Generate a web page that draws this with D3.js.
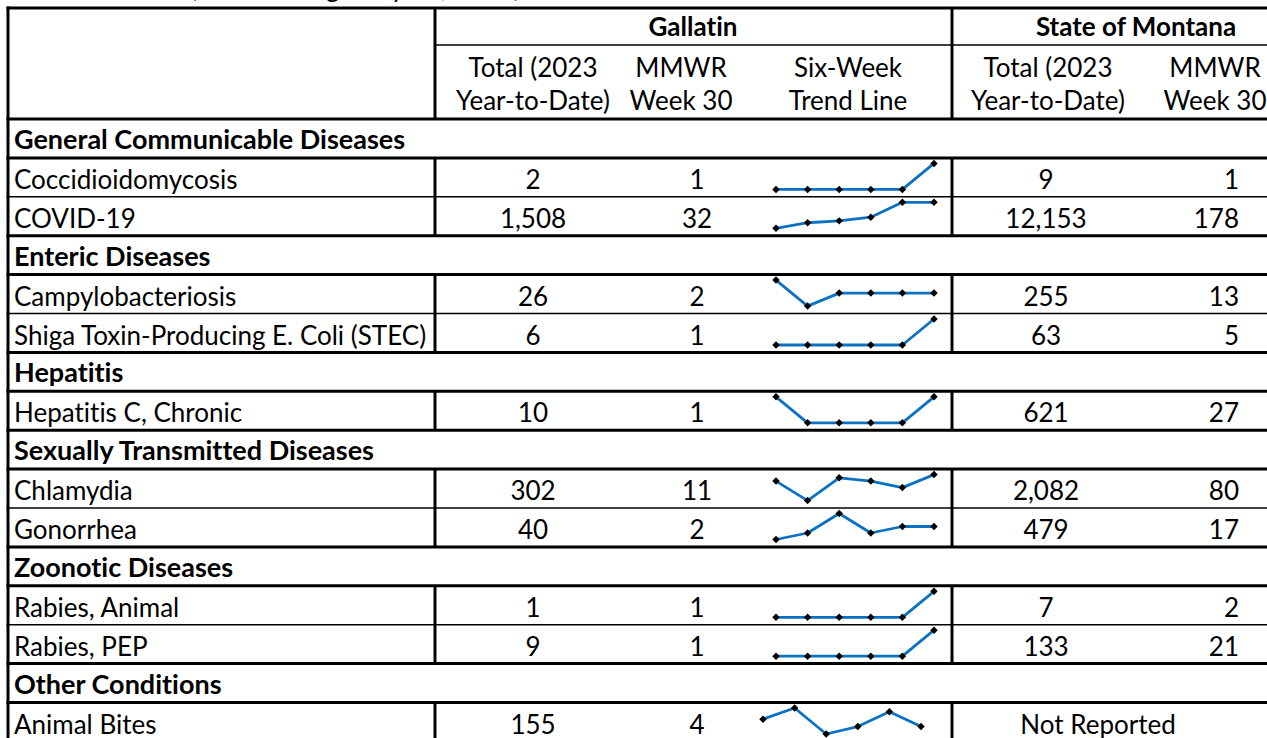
<!DOCTYPE html>
<html>
<head>
<meta charset="utf-8">
<script src="https://cdn.jsdelivr.net/npm/d3@7"></script>
<style>
  body { margin: 0; background: #fff; }
  svg text { font-family: Lato, "Noto Sans", sans-serif; fill: #000;
    font-variant-ligatures: none; font-feature-settings: "liga" 0; }
</style>
</head>
<body>
<div id="chart"></div>
<script>
// Disease report table with six-week sparklines
const groups = ["General Communicable Diseases", "Enteric Diseases", "Hepatitis",
  "Sexually Transmitted Diseases", "Zoonotic Diseases", "Other Conditions"];
const conditions = ["Coccidioidomycosis", "COVID-19", "Campylobacteriosis",
  "Shiga Toxin-Producing E. Coli (STEC)", "Hepatitis C, Chronic", "Chlamydia",
  "Gonorrhea", "Rabies, Animal", "Rabies, PEP", "Animal Bites"];
const conditionGroup = [0, 0, 1, 1, 2, 3, 3, 4, 4, 5];
const gallatinYTD = [2, 1508, 26, 6, 10, 302, 40, 1, 9, 155];
const gallatinWeek = [1, 32, 2, 1, 1, 11, 2, 1, 1, 4];
const montanaYTD = [9, 12153, 255, 63, 621, 2082, 479, 7, 133, null];
const montanaWeek = [1, 178, 13, 5, 27, 80, 17, 2, 21, null];
const trend = [
  [0, 0, 0, 0, 0, 1],
  [18, 21, 22, 24, 32, 32],
  [3, 1, 2, 2, 2, 2],
  [0, 0, 0, 0, 0, 1],
  [1, 0, 0, 0, 0, 1],
  [9, 3, 10, 9, 7, 11],
  [0, 1, 4, 1, 2, 2],
  [0, 0, 0, 0, 0, 1],
  [0, 0, 0, 0, 0, 1],
  [6, 9, 2, 4, 8, 4]
];
const weeks = [25, 26, 27, 28, 29, 30];
const notReported = "Not Reported";

const width = 1267, height = 738;
const fs = 26, fsBold = 27;
const fmt = d3.format(",");

const svg = d3.select('#chart').append('svg')
  .attr('width', width)
  .attr('height', height);

svg.append('rect').attr('width', width).attr('height', height).attr('fill', '#fff');

// title, mostly cut off at the top edge
svg.append('text')
  .attr('x', 190).attr('y', -3)
  .attr('font-size', fs)
  .text('(2023 through July 29, 2023)');

// build body rows: group heading followed by its conditions
const rows = [];
groups.forEach((g, gi) => {
  rows.push({ type: 'group', label: g });
  conditions.forEach((c, ci) => {
    if (conditionGroup[ci] === gi) rows.push({ type: 'data', label: c, i: ci, g: gi });
  });
});

const y = d3.scaleBand()
  .domain(d3.range(rows.length))
  .range([119, 741.4]);

const left = 8, split1 = 435, split2 = 952, right = 1300;
const thick = 3, thin = 1.5;

const lines = svg.append('g');
function hline(x1, x2, yy, w) {
  lines.append('line').attr('x1', x1).attr('x2', x2).attr('y1', yy).attr('y2', yy)
    .attr('stroke', '#000').attr('stroke-width', w);
}
function vline(xx, y1, y2, w) {
  lines.append('line').attr('x1', xx).attr('x2', xx).attr('y1', y1).attr('y2', y2)
    .attr('stroke', '#000').attr('stroke-width', w);
}

// header
hline(left - 1.5, right, 8, thick);
hline(split1, right, 45, thin);
hline(left - 1.5, right, 119, thick);
vline(split1, 8, 119, thick);
vline(split2, 8, 119, thick);

const head = svg.append('g').attr('font-size', fs);
head.append('text').attr('x', 693).attr('y', 36).attr('text-anchor', 'middle')
  .attr('font-weight', 'bold').text('Gallatin');
head.append('text').attr('x', 1136).attr('y', 36).attr('text-anchor', 'middle')
  .attr('font-weight', 'bold').text('State of Montana');

const subHeads = [
  { x: 533, a: 'Total (2023', b: 'Year-to-Date)' },
  { x: 681, a: 'MMWR', b: 'Week 30' },
  { x: 848, a: 'Six-Week', b: 'Trend Line' },
  { x: 1048, a: 'Total (2023', b: 'Year-to-Date)' },
  { x: 1215, a: 'MMWR', b: 'Week 30' }
];
subHeads.forEach(h => {
  head.append('text').attr('x', h.x).attr('y', 77).attr('text-anchor', 'middle').text(h.a);
  head.append('text').attr('x', h.x).attr('y', 110).attr('text-anchor', 'middle').text(h.b);
});

// sparkline x scale
const sx = d3.scaleLinear().domain(d3.extent(weeks)).range([776, 934]);
const lastShift = -13; // the bites sparkline sits a little to the left

const body = svg.append('g').attr('font-size', fs);
const base = 31;

rows.forEach((r, k) => {
  const top = y(k), bot = top + y.bandwidth();
  const next = rows[k + 1];
  const bottomThick = !next || r.type === 'group' || next.type === 'group';
  hline(left - 1.5, right, bot, bottomThick ? thick : thin);

  if (r.type === 'group') {
    body.append('text').attr('x', 14).attr('y', top + 30)
      .attr('font-size', fsBold)
      .attr('font-weight', 'bold').text(r.label);
    return;
  }

  vline(split1, top, bot, thick);
  vline(split2, top, bot, thick);

  body.append('text').attr('x', 14).attr('y', top + base).text(r.label);
  body.append('text').attr('x', 533).attr('y', top + base).attr('text-anchor', 'middle')
    .text(fmt(gallatinYTD[r.i]));
  body.append('text').attr('x', 697).attr('y', top + base).attr('text-anchor', 'middle')
    .text(fmt(gallatinWeek[r.i]));

  if (montanaYTD[r.i] == null) {
    body.append('text').attr('x', 1098).attr('y', top + base).attr('text-anchor', 'middle')
      .text(notReported);
  } else {
    body.append('text').attr('x', 1046).attr('y', top + base).attr('text-anchor', 'middle')
      .text(fmt(montanaYTD[r.i]));
    body.append('text').attr('x', 1239).attr('y', top + base).attr('text-anchor', 'end')
      .text(fmt(montanaWeek[r.i]));
  }

  // sparkline
  const vals = trend[r.i];
  const sy = d3.scaleLinear().domain(d3.extent(vals)).range([top + 31.5, top + 5.5]);
  const dx = r.i === conditions.length - 1 ? lastShift : 0;
  const pts = vals.map((v, j) => [sx(weeks[j]) + dx, sy(v)]);
  const spark = svg.append('g');
  spark.append('path')
    .attr('d', d3.line()(pts))
    .attr('fill', 'none')
    .attr('stroke', '#0a72c4')
    .attr('stroke-width', 2.8)
    .attr('stroke-linejoin', 'round');
  spark.selectAll('path.m')
    .data(pts)
    .join('path')
    .attr('class', 'm')
    .attr('d', d3.symbol(d3.symbolSquare, 28))
    .attr('transform', d => `translate(${d[0]},${d[1]}) rotate(45)`)
    .attr('fill', '#000');
});

vline(left, 8 - 1.5, height, thick);
</script>
</body>
</html>
